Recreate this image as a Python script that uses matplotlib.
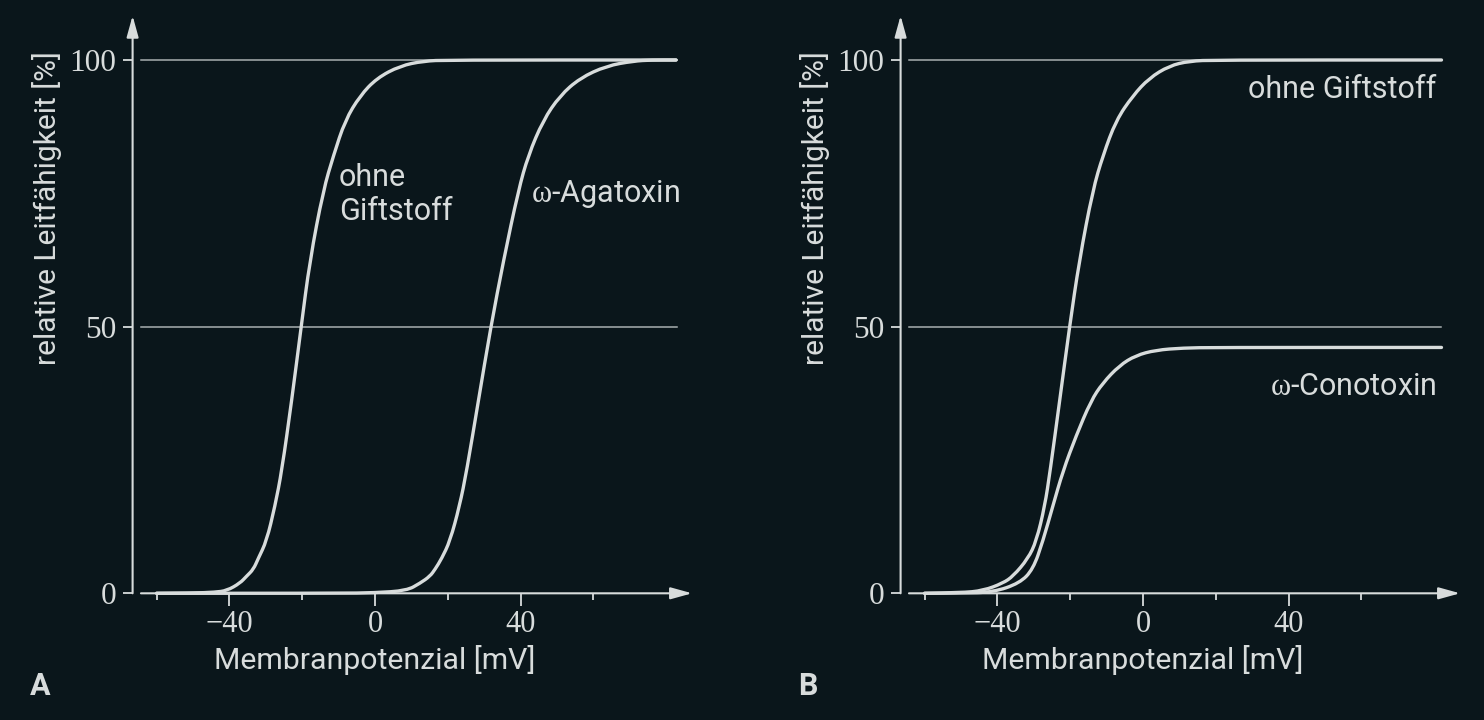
import matplotlib
matplotlib.use("Agg")
import matplotlib.pyplot as plt
from matplotlib.path import Path
from matplotlib.patches import PathPatch
import matplotlib.transforms as mtransforms

# Membranpotenzial [mV] / relative Leitfaehigkeit [%]
mv_a_ohne = [-60, -50, -44, -40.7, -37.1, -35.3, -33.4, -32.1, -29.8, -27.5, -25.6, -22.9, -20.3,
             -17.9, -14.2, -11.4, -8.2, -4.1, 0.5, 6.9, 13.3, 20, 82.7]
rel_a_ohne = [0, 0.05, 0.2, 0.5, 1.9, 3.2, 4.5, 6.5, 9.8, 16.3, 23.0, 36.1, 49.9,
              62.4, 75.6, 82.1, 88.7, 93.3, 96.6, 98.9, 99.8, 100, 100]

mv_a_aga = [-60, -10, 0, 8.7, 12.4, 15.1, 16.5, 18.3, 20.6, 23.2, 25.2, 28.4, 31.8,
            35.3, 39.4, 42.1, 46.2, 50.8, 56.3, 63.6, 71.0, 76, 82.7]
rel_a_aga = [0, 0, 0.1, 0.5, 1.9, 3.2, 4.5, 6.5, 9.8, 16.3, 23.0, 36.1, 49.9,
             62.4, 75.6, 82.1, 88.7, 93.3, 96.6, 98.9, 99.8, 100, 100]

mv_b_ohne = [-60, -50, -43.9, -38.5, -35.7, -31.6, -29.3, -27.0, -25.5, -22.9, -20.2,
             -17.5, -13.8, -11.0, -7.4, -2.8, 1.7, 7.2, 12.7, 20, 82]
rel_b_ohne = [0, 0.1, 0.5, 1.9, 3.2, 6.5, 9.8, 16.3, 23.0, 36.1, 49.9,
              62.4, 75.6, 82.1, 88.7, 93.3, 96.6, 98.9, 99.8, 100, 100]

mv_b_cono = [-60, -50, -41.2, -33.9, -30.2, -27.5, -24.8, -22.0, -18.4, -14.3, -11.1,
             -6.5, -2.0, 3.5, 10.9, 20, 82]
rel_b_cono = [0, 0.05, 0.2, 1.9, 4.5, 9.8, 16.3, 22.9, 29.5, 36.1, 39.4,
              42.7, 44.6, 45.6, 46.0, 46.1, 46.1]

x_major = [-40, 0, 40]
x_minor = [-60, -20, 20, 60]
y_ticks = [0, 50, 100]

BG = '#0a161b'
FG = '#d8dcdc'
GRID = '#a9afb0'
SANS = ['Roboto', 'DejaVu Sans']
SERIF = ['Liberation Serif', 'DejaVu Serif']

plt.rcParams['mathtext.fontset'] = 'custom'
plt.rcParams['mathtext.rm'] = 'Liberation Serif'


def setup_axes(ax, x_end):
    # axes drawn by hand: arrows, ticks, two reference lines
    ax.set_facecolor(BG)
    ax.set_xlim(-66.6, 87.5)
    ax.set_ylim(0, 109)
    for s in ax.spines.values():
        s.set_visible(False)
    ax.set_xticks(x_major)
    ax.set_xticks(x_minor, minor=True)
    ax.set_xticklabels(['\u221240', '0', '40'])
    ax.set_yticks(y_ticks)
    ax.tick_params(axis='x', which='major', length=9, width=1.3, color=FG, pad=3,
                   labelsize=22, labelcolor=FG)
    ax.tick_params(axis='x', which='minor', length=5, width=1.3, color=FG)
    ax.tick_params(axis='y', length=7, width=1.3, color=FG, pad=5,
                   labelsize=22.5, labelcolor=FG)
    for lab in ax.get_xticklabels() + ax.get_yticklabels():
        lab.set_family(SERIF)
    for y in [50, 100]:
        ax.plot([-64.3, x_end], [y, y], color=GRID, lw=1.1, zorder=1)
    arrow = dict(arrowstyle='-|>,head_length=1.3,head_width=0.36', color=FG, lw=1.5,
                 shrinkA=0, shrinkB=0)
    ax.annotate('', xy=(87.1, 0), xytext=(-64.3, 0), arrowprops=arrow, annotation_clip=False)
    ax.annotate('', xy=(-66.6, 108.3), xytext=(-66.6, 0), arrowprops=arrow, annotation_clip=False)
    # x label centred under 0 mV
    trans = mtransforms.blended_transform_factory(ax.transData, fig.transFigure)
    ax.text(0, 1 - 660 / 720, 'Membranpotenzial [mV]', transform=trans, family=SANS,
            fontsize=21.8, color=FG, ha='center', va='center')


def curve(ax, x, y):
    # smooth drawing through the read points (quadratic segments between midpoints)
    verts = [(x[0], y[0])]
    codes = [Path.MOVETO]
    for i in range(1, len(x) - 1):
        mx = (x[i] + x[i + 1]) / 2
        my = (y[i] + y[i + 1]) / 2
        verts += [(x[i], y[i]), (mx, my)]
        codes += [Path.CURVE3, Path.CURVE3]
    verts.append((x[-1], y[-1]))
    codes.append(Path.LINETO)
    patch = PathPatch(Path(verts, codes), facecolor='none', edgecolor=FG, lw=2.4,
                      capstyle='round', joinstyle='round', clip_on=False, zorder=3)
    ax.add_patch(patch)


fig = plt.figure(figsize=(14.84, 7.2), dpi=100, facecolor=BG)
ax_a = fig.add_axes([0.08935, 0.17597, 0.37797, 0.80736])
ax_b = fig.add_axes([0.60687, 0.17597, 0.37797, 0.80736])

setup_axes(ax_a, 83)
curve(ax_a, mv_a_ohne, rel_a_ohne)
curve(ax_a, mv_a_aga, rel_a_aga)
ax_a.text(-9.9, 76.4, 'ohne', family=SANS, fontsize=22, color=FG, va='baseline')
ax_a.text(-9.9, 70.0, 'Giftstoff', family=SANS, fontsize=22, color=FG, va='baseline')
ax_a.text(42.8, 73.3, r'$\mathrm{\omega}$-Agatoxin', family=SANS, fontsize=22, color=FG,
          va='baseline')

setup_axes(ax_b, 82)
curve(ax_b, mv_b_ohne, rel_b_ohne)
curve(ax_b, mv_b_cono, rel_b_cono)
ax_b.text(80.6, 92.8, 'ohne Giftstoff', family=SANS, fontsize=22, color=FG, va='baseline',
          ha='right')
ax_b.text(80.6, 37.1, r'$\mathrm{\omega}$-Conotoxin', family=SANS, fontsize=22, color=FG,
          va='baseline', ha='right')

for xpos in [47, 815]:
    fig.text(xpos / 1484, 1 - 208 / 720, 'relative Leitfähigkeit [%]', family=SANS,
             fontsize=21.5, color=FG, rotation=90, ha='center', va='center')

fig.text(40 / 1484, 1 - 686 / 720, 'A', family=SANS, fontsize=22, weight='bold', color=FG,
         ha='center', va='center')
fig.text(808 / 1484, 1 - 686 / 720, 'B', family=SANS, fontsize=22, weight='bold', color=FG,
         ha='center', va='center')

fig.savefig('out.png', dpi=100, facecolor=BG)
